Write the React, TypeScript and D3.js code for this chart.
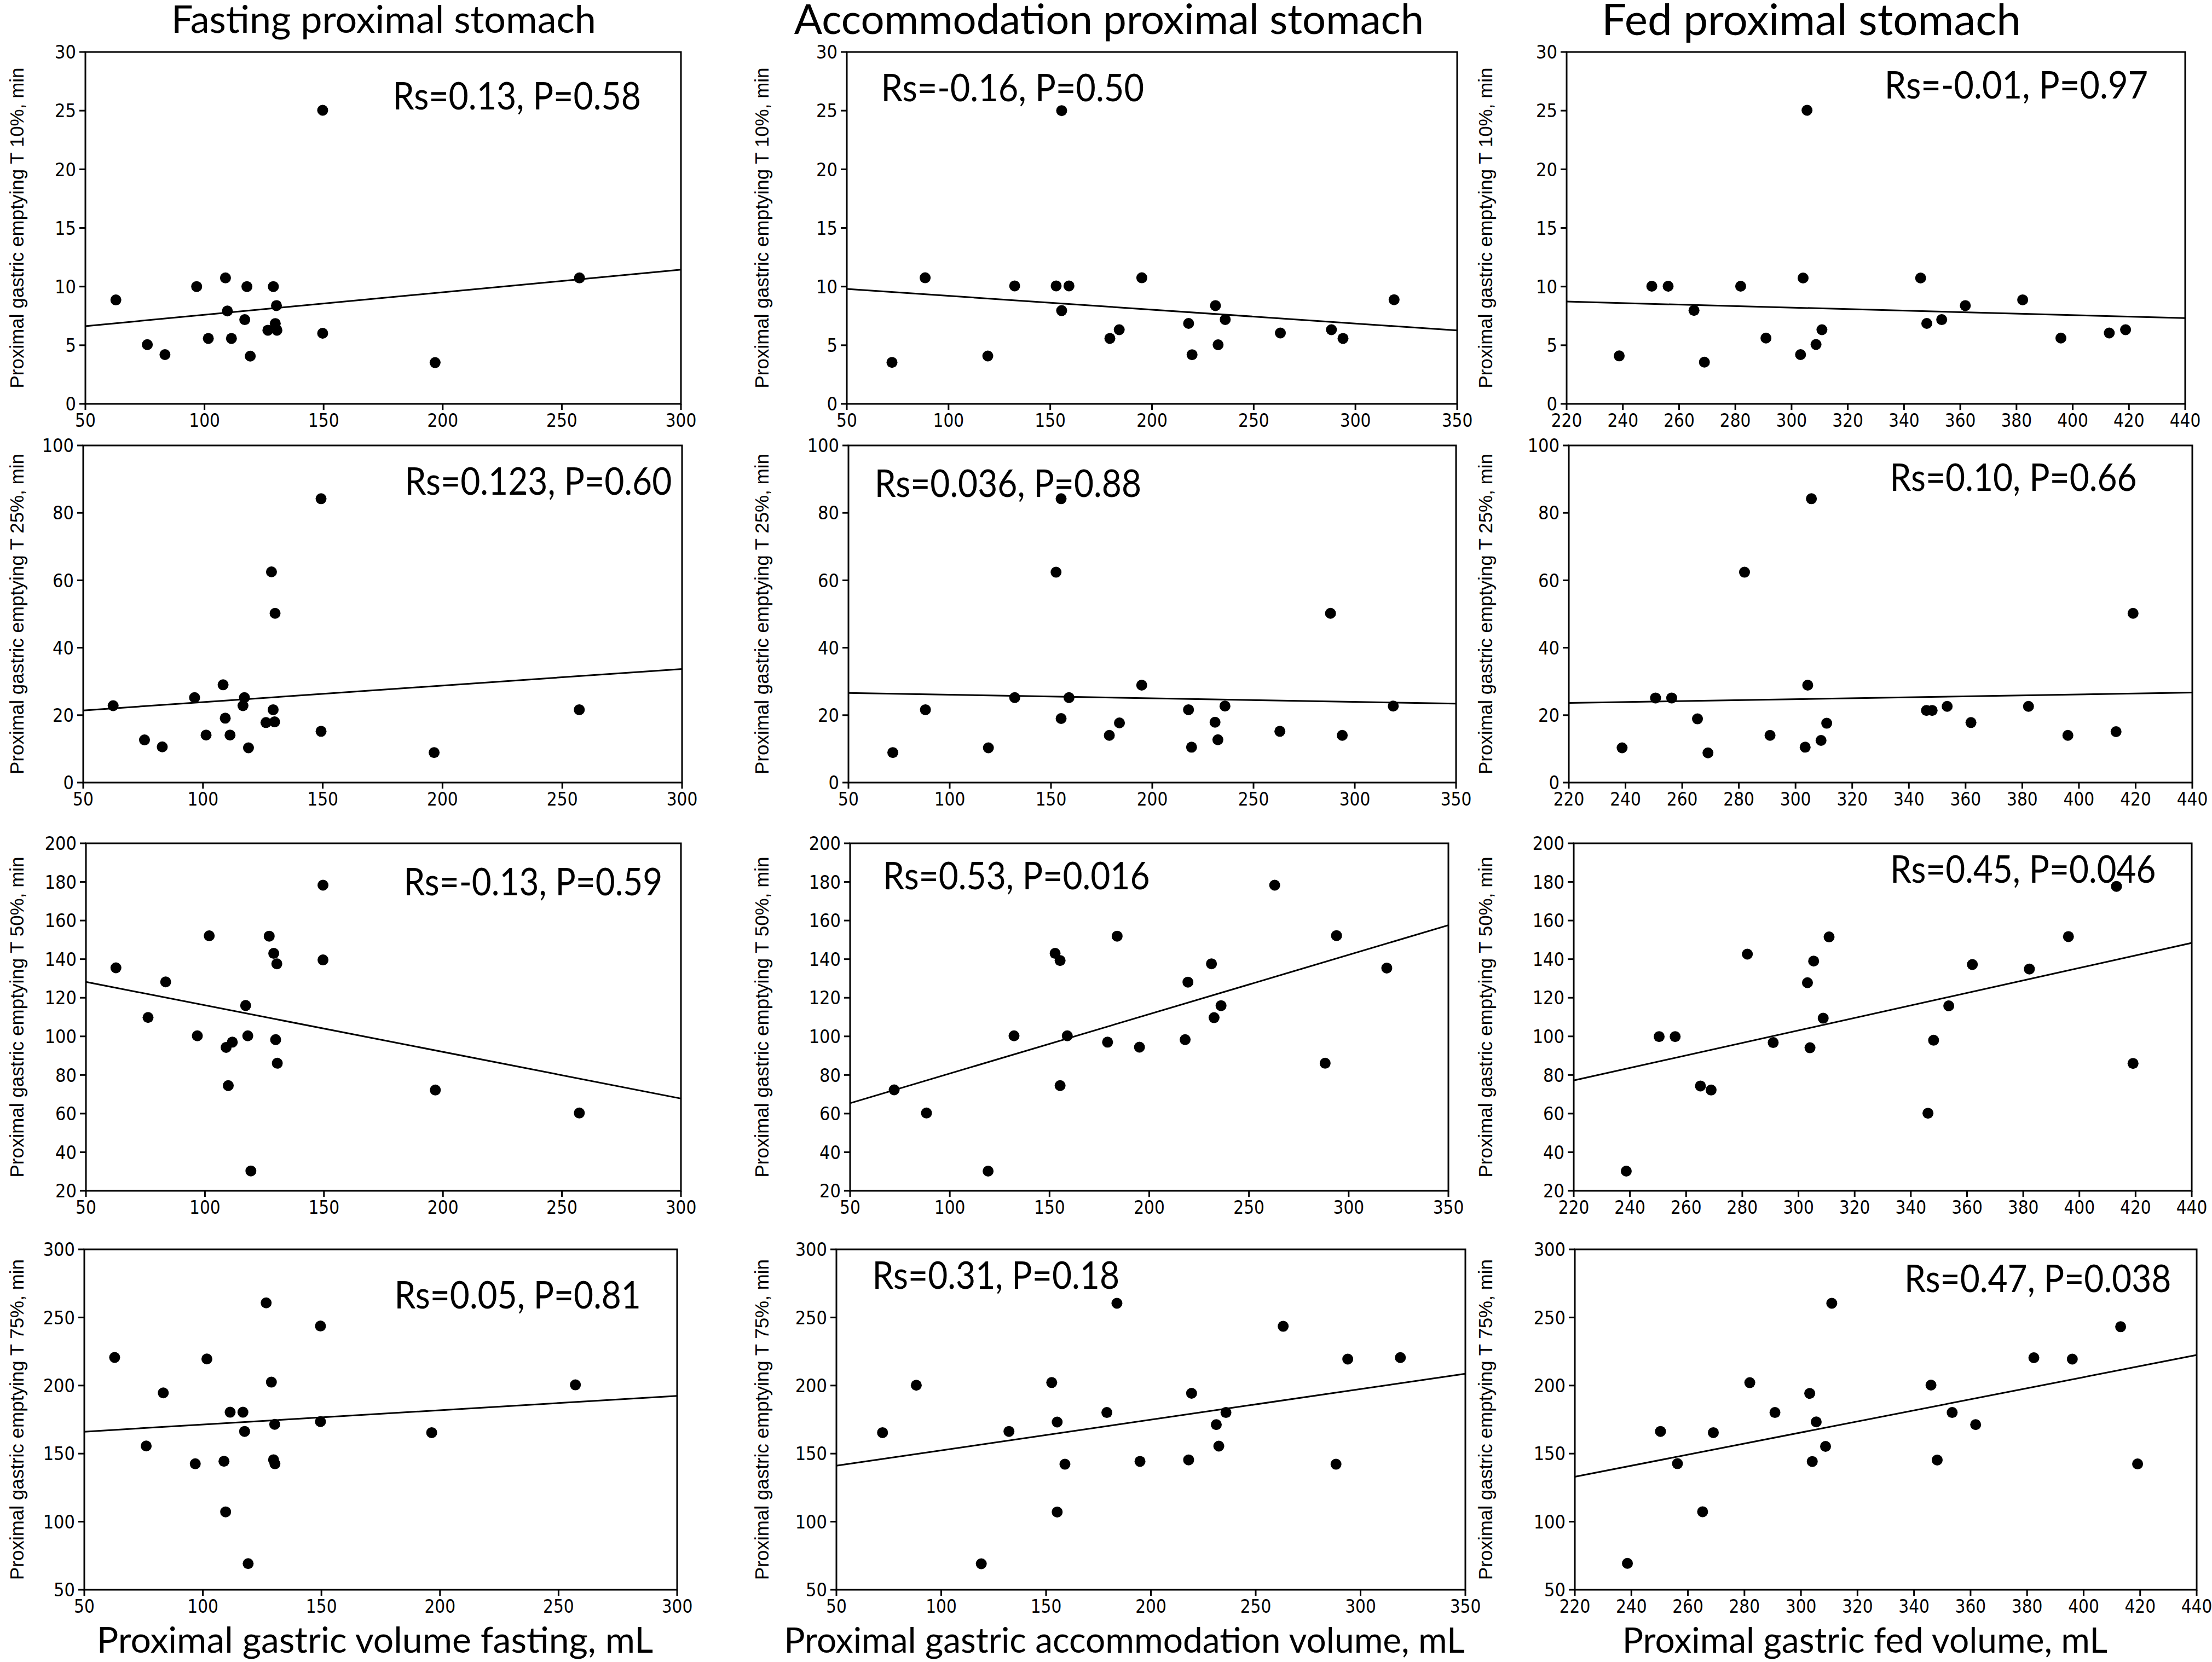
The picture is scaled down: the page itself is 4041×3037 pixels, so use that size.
import React, { useEffect } from "react";
import * as d3 from "d3";

const W = 4041;
const H = 3037;

// ---------- text ----------
const columnTitles = ["Fasting proximal stomach", "Accommodation proximal stomach", "Fed proximal stomach"];
const xAxisTitles = [
  "Proximal gastric volume fasting, mL",
  "Proximal gastric accommodation volume, mL",
  "Proximal gastric fed volume, mL",
];
const rowLabels = [
  "Proximal gastric emptying T 10%, min",
  "Proximal gastric emptying T 25%, min",
  "Proximal gastric emptying T 50%, min",
  "Proximal gastric emptying T 75%, min",
];
const statsText = [
  ["Rs=0.13, P=0.58", "Rs=-0.16, P=0.50", "Rs=-0.01, P=0.97"],
  ["Rs=0.123, P=0.60", "Rs=0.036, P=0.88", "Rs=0.10, P=0.66"],
  ["Rs=-0.13, P=0.59", "Rs=0.53, P=0.016", "Rs=0.45, P=0.046"],
  ["Rs=0.05, P=0.81", "Rs=0.31, P=0.18", "Rs=0.47, P=0.038"],
];

// ---------- axes ----------
const xDomains = [[50, 300], [50, 350], [220, 440]];
const xTickValues = [
  [50, 100, 150, 200, 250, 300],
  [50, 100, 150, 200, 250, 300, 350],
  [220, 240, 260, 280, 300, 320, 340, 360, 380, 400, 420, 440],
];
const yDomains = [[0, 30], [0, 100], [20, 200], [50, 300]];
const yTickValues = [
  [0, 5, 10, 15, 20, 25, 30],
  [0, 20, 40, 60, 80, 100],
  [20, 40, 60, 80, 100, 120, 140, 160, 180, 200],
  [50, 100, 150, 200, 250, 300],
];

// ---------- data: [volume mL, time min] ----------
const fastT10 = [[62.8,8.86],[76,5.05],[83.4,4.2],[96.7,10.0],[101.6,5.58],[108.8,10.74],[109.6,7.92],[111.3,5.58],[116.9,7.18],[117.8,10.0],[119.2,4.07],[126.6,6.28],[128.9,10.0],[129.7,6.85],[130.2,8.38],[130.4,6.28],[149.6,25.03],[149.6,6.02],[196.8,3.52],[257.4,10.74]];
const accT10 = [[72.2,3.54],[88.5,10.75],[119.3,4.08],[132.5,10.06],[152.9,10.06],[155.6,25.0],[155.6,7.95],[159.2,10.06],[179.3,5.58],[183.9,6.32],[195.0,10.75],[218.0,6.86],[219.7,4.19],[231.2,8.38],[232.5,5.04],[236.0,7.19],[263.1,6.04],[288.2,6.32],[293.9,5.58],[319.0,8.88]];
const fedT10 = [[238.7,4.09],[250.3,10.03],[256.1,10.03],[265.3,7.97],[269.0,3.56],[281.9,10.03],[290.9,5.61],[303.2,4.2],[304.1,10.73],[305.5,25.03],[308.7,5.06],[310.8,6.32],[345.9,10.73],[348.1,6.86],[353.4,7.18],[361.8,8.38],[382.2,8.87],[395.8,5.61],[413.0,6.04],[418.8,6.32]];

const fastT25 = [[62.5,22.8],[75.6,12.65],[83.0,10.6],[96.5,25.2],[101.3,14.1],[108.4,29.0],[109.3,19.1],[111.3,14.1],[116.7,22.8],[117.3,25.2],[119.0,10.3],[126.3,17.8],[128.6,62.5],[129.3,21.6],[129.9,18.0],[130.1,50.2],[149.3,84.2],[149.3,15.2],[196.5,8.9],[257.1,21.6]];
const accT25 = [[71.9,8.9],[88.0,21.6],[119.1,10.3],[132.1,25.2],[152.5,62.4],[155.0,84.2],[155.0,19.0],[158.9,25.2],[178.8,14.0],[183.8,17.7],[194.8,28.9],[217.9,21.6],[219.4,10.5],[231.0,17.9],[232.4,12.7],[235.9,22.7],[263.0,15.2],[288.0,50.2],[293.8,14.0],[319.0,22.7]];
const fedT25 = [[238.8,10.3],[250.6,25.1],[256.3,25.1],[265.4,18.9],[269.1,8.8],[282.0,62.4],[291.0,14.0],[303.4,10.5],[304.3,28.9],[305.6,84.2],[309.0,12.5],[311.0,17.6],[346.2,21.4],[348.2,21.4],[353.5,22.6],[361.9,17.8],[382.2,22.6],[396.1,14.0],[413.1,15.1],[419.1,50.2]];

const fastT50 = [[62.6,135.5],[76.1,109.8],[83.5,128.2],[96.8,100.3],[101.8,152.1],[108.9,94.3],[109.8,74.5],[111.5,97.0],[117.1,116.0],[118.0,100.3],[119.3,30.3],[127.0,151.9],[128.9,143.0],[129.7,98.3],[130.2,137.6],[130.4,86.1],[149.6,178.3],[149.6,139.6],[196.8,72.2],[257.3,60.3]];
const accT50 = [[72.1,72.3],[88.3,60.3],[119.2,30.2],[132.2,100.3],[152.8,143.0],[155.3,139.3],[155.3,74.5],[158.9,100.3],[179.1,97.0],[183.9,151.9],[195.1,94.4],[218.0,98.3],[219.4,128.1],[231.2,137.6],[232.5,109.7],[236.0,115.9],[262.9,178.3],[288.2,86.1],[293.9,152.2],[319.1,135.4]];
const fedT50 = [[238.7,30.2],[250.4,99.9],[256.1,99.9],[265.1,74.3],[268.9,72.2],[281.8,142.6],[291.0,96.8],[303.2,127.8],[304.1,94.1],[305.4,139.0],[308.8,109.4],[310.9,151.5],[346.1,60.2],[348.1,98.0],[353.5,115.8],[361.9,137.2],[382.2,134.9],[396.1,151.7],[413.2,177.7],[419.1,86.0]];

const fastT75 = [[62.8,220.6],[76.1,155.6],[83.3,194.6],[96.8,142.5],[101.7,219.5],[108.9,144.4],[109.6,107.2],[111.5,180.4],[116.9,180.4],[117.6,166.3],[119.1,69.2],[126.7,260.7],[128.9,202.5],[129.8,145.5],[130.3,171.5],[130.4,142.5],[149.6,243.7],[149.6,173.5],[196.5,165.4],[257.1,200.5]];
const accT75 = [[72.0,165.4],[88.1,200.2],[119.1,69.1],[132.3,166.3],[152.7,202.2],[155.3,173.2],[155.3,107.1],[159.0,142.2],[179.0,180.2],[183.8,260.4],[194.8,144.3],[218.0,145.4],[219.4,194.3],[231.2,171.3],[232.4,155.5],[235.8,180.2],[263.1,243.5],[288.3,142.2],[293.9,219.4],[319.0,220.5]];
const fedT75 = [[238.6,69.4],[250.3,166.3],[256.3,142.6],[265.2,107.3],[269.0,165.4],[281.9,202.1],[290.8,180.2],[303.1,194.2],[304.0,144.2],[305.4,173.3],[308.7,155.3],[310.9,260.4],[346.0,200.3],[348.2,145.3],[353.5,180.2],[361.8,171.3],[382.4,220.4],[396.0,219.4],[413.1,243.2],[419.1,142.4]];

// regression line values [y at x-min, y at x-max]
const fitT10 = [[6.63, 11.44], [9.80, 6.26], [8.72, 7.31]];
const fitT25 = [[21.4, 33.7], [26.6, 23.4], [23.6, 26.7]];
const fitT50 = [[128.2, 67.8], [65.4, 157.6], [77.2, 148.4]];
const fitT75 = [[166.1, 192.4], [141.1, 208.7], [133.0, 222.4]];

const panelData = [
  [fastT10, accT10, fedT10],
  [fastT25, accT25, fedT25],
  [fastT50, accT50, fedT50],
  [fastT75, accT75, fedT75],
];
const panelFits = [fitT10, fitT25, fitT50, fitT75];

// ---------- layout ----------
const rowY = [[95, 738], [814, 1430], [1541, 2176], [2283, 2905]];
const panelX = [
  [[156, 1244], [1547, 2662], [2862, 3992]],
  [[152, 1246], [1550, 2660], [2866, 4005]],
  [[157, 1244], [1553, 2646], [2875, 4004]],
  [[154, 1237], [1528, 2677], [2877, 4013]],
];
// stats label: [left frac, right frac, baseline frac] of the plot box
const statPos = [
  [[0.516, 0.933, 0.164], [0.056, 0.487, 0.14], [0.514, 0.94, 0.132]],
  [[0.537, 0.983, 0.146], [0.043, 0.482, 0.152], [0.515, 0.911, 0.134]],
  [[0.534, 0.969, 0.149], [0.055, 0.501, 0.133], [0.512, 0.942, 0.114]],
  [[0.523, 0.939, 0.174], [0.057, 0.45, 0.116], [0.53, 0.959, 0.126]],
];
const yLabelX = [31, 1392, 2714];
const titleX = [701, 2026, 3309];
const titleSize = [70, 76, 80];
const titleBase = [60, 62, 64];
const xTitleX = [685, 2054, 3407];
const xTitleSize = [66, 64, 64];

const TICK_FONT = "'Liberation Sans Narrow', 'Arial Narrow', 'DejaVu Sans Condensed', sans-serif";
const LABEL_FONT = "'Liberation Sans', Arial, sans-serif";
const CAL_FONT = "Lato, 'Open Sans', sans-serif";

function Panel({ r, c }: { r: number; c: number }) {
  const [x0, x1] = panelX[r][c];
  const [y0, y1] = rowY[r];
  const xs = d3.scaleLinear().domain(xDomains[c]).range([x0, x1]);
  const ys = d3.scaleLinear().domain(yDomains[r]).range([y1, y0]);
  const pts = panelData[r][c];
  const fit = panelFits[r][c];
  const line = d3.line<number[]>().x((d) => xs(d[0])).y((d) => ys(d[1]));
  const fitPts = [
    [xDomains[c][0], fit[0]],
    [xDomains[c][1], fit[1]],
  ];
  const sp = statPos[r][c];
  const sx = x0 + sp[0] * (x1 - x0);
  const sw = (sp[1] - sp[0]) * (x1 - x0);
  const sy = y0 + sp[2] * (y1 - y0);
  return (
    <g>
      <rect x={x0} y={y0} width={x1 - x0} height={y1 - y0} fill="none" stroke="#000" strokeWidth={3} />
      {yTickValues[r].map((v) => (
        <g key={"y" + v}>
          <line x1={x0 - 11} x2={x0} y1={ys(v)} y2={ys(v)} stroke="#000" strokeWidth={3} />
          <text x={x0 - 17} y={ys(v)} dy="0.36em" textAnchor="end" fontFamily={TICK_FONT} fontSize={34}>
            {v}
          </text>
        </g>
      ))}
      {xTickValues[c].map((v) => (
        <g key={"x" + v}>
          <line x1={xs(v)} x2={xs(v)} y1={y1} y2={y1 + 11} stroke="#000" strokeWidth={3} />
          <text x={xs(v)} y={y1 + 42} textAnchor="middle" fontFamily={TICK_FONT} fontSize={33}>
            {v}
          </text>
        </g>
      ))}
      <path d={line(fitPts) || ""} fill="none" stroke="#000" strokeWidth={3} />
      {pts.map((p, i) => (
        <circle key={i} cx={xs(p[0])} cy={ys(p[1])} r={10} fill="#000" />
      ))}
      <text
        x={sx}
        y={sy}
        fontFamily={CAL_FONT}
        fontSize={70}
        textLength={sw}
        lengthAdjust="spacingAndGlyphs"
        fill="#000"
      >
        {statsText[r][c]}
      </text>
      <text
        transform={`translate(${yLabelX[c]},${(y0 + y1) / 2}) rotate(-90)`}
        textAnchor="middle"
        dy="0.35em"
        fontFamily={LABEL_FONT}
        fontSize={35}
      >
        {rowLabels[r]}
      </text>
    </g>
  );
}

export default function App() {
  useEffect(() => {
    document.body.style.margin = "0";
    document.body.style.background = "#fff";
  }, []);
  return (
    <svg width={W} height={H} viewBox={`0 0 ${W} ${H}`} style={{ display: "block", background: "#fff" }}>
      <rect x={0} y={0} width={W} height={H} fill="#fff" />
      {columnTitles.map((t, i) => (
        <text key={t} x={titleX[i]} y={titleBase[i]} textAnchor="middle" fontFamily={CAL_FONT} fontSize={titleSize[i]}>
          {t}
        </text>
      ))}
      {rowY.map((_, r) =>
        [0, 1, 2].map((c) => <Panel key={r + "-" + c} r={r} c={c} />)
      )}
      {xAxisTitles.map((t, i) => (
        <text key={t} x={xTitleX[i]} y={3020} textAnchor="middle" fontFamily={CAL_FONT} fontSize={xTitleSize[i]}>
          {t}
        </text>
      ))}
    </svg>
  );
}
